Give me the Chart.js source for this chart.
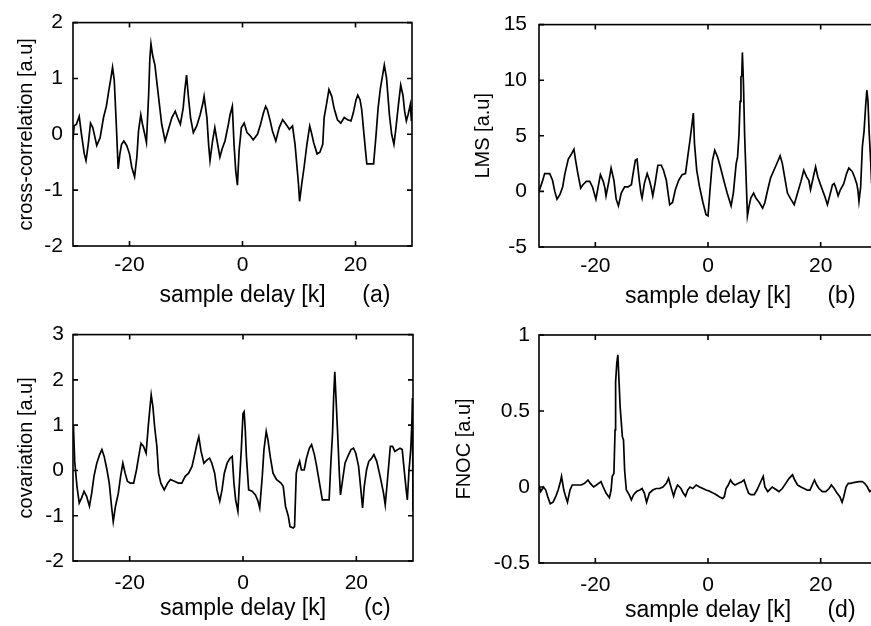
<!DOCTYPE html>
<html>
<head>
<meta charset="utf-8">
<script src="https://cdn.jsdelivr.net/npm/chart.js@4.4.0/dist/chart.umd.min.js"></script>
<style>
  body { margin: 0; width: 871px; height: 626px; overflow: hidden; background: #fff; position: relative; }
  canvas { position: absolute; }
</style>
</head>
<body>
<canvas id="panelA" width="440" height="315" style="left:0;top:0"></canvas>
<canvas id="panelB" width="460" height="315" style="left:440px;top:0"></canvas>
<canvas id="panelC" width="440" height="313" style="left:0;top:313px"></canvas>
<canvas id="panelD" width="460" height="313" style="left:440px;top:313px"></canvas>
<script>
// sample delay ticks shared by all four panels
const delayTicks = [-20, 0, 20];

// (a) cross-correlation
const lagA = [
  -30, -29.8, -29.4, -28.9, -28.5, -28.0, -27.7, -27.3, -26.9, -26.5,
  -26.1, -25.8, -25.2, -24.6, -24.1, -23.7, -23.3, -23.0, -22.7, -22.4,
  -22.0, -21.7, -21.4, -21.0, -20.5, -20.0, -19.6, -19.1, -18.7, -18.4,
  -18.0, -17.7, -17.3, -17.0, -16.6, -16.4, -16.2, -15.9, -15.5, -15.1,
  -14.7, -14.3, -13.7, -13.1, -12.5, -11.9, -11.5, -11.0, -10.5, -10.2,
  -9.9, -9.6, -9.2, -8.7, -8.1, -7.5, -7.0, -6.8, -6.3, -6.0,
  -5.75, -5.3, -4.9, -4.5, -4.0, -3.6, -3.1, -2.5, -2.2, -1.8,
  -1.5, -1.2, -0.9, -0.6, -0.2, 0.3, 0.8, 1.4, 1.9, 2.65,
  3.2, 3.7, 4.1, 4.4, 4.9, 5.3, 5.9, 6.5, 7.1, 7.7,
  8.3, 8.85, 9.3, 9.6, 9.9, 10.1, 10.5, 10.9, 11.4, 11.9,
  12.2, 12.6, 13.2, 13.7, 14.2, 14.45, 14.9, 15.3, 15.8, 16.2,
  16.8, 17.4, 18.0, 18.6, 19.2, 19.6, 20.1, 20.4, 20.8, 21.1,
  21.5, 22.0, 22.7, 23.2, 23.6, 24.0, 24.4, 24.8, 25.1, 25.5,
  26.0, 26.4, 26.8, 27.1, 27.6, 28.0, 28.4, 28.7, 29.0, 29.3,
  29.7, 29.9, 30.0
];
const crossCorr = [
  -0.1, 0.15, 0.18, 0.32, 0.0, -0.35, -0.47, -0.18, 0.2, 0.12,
  -0.06, -0.2, -0.06, 0.3, 0.5, 0.76, 1.0, 1.2, 0.97, 0.32,
  -0.62, -0.35, -0.18, -0.12, -0.2, -0.35, -0.59, -0.76, -0.41, 0.06,
  0.35, 0.18, 0.0, -0.15, 0.74, 1.35, 1.62, 1.41, 1.24, 0.88,
  0.53, 0.18, -0.12, 0.09, 0.3, 0.41, 0.3, 0.18, 0.47, 0.8,
  1.06, 0.7, 0.3, 0.03, 0.15, 0.35, 0.56, 0.68, 0.3, -0.18,
  -0.47, -0.12, 0.12, -0.12, -0.41, -0.26, -0.12, 0.18, 0.35, 0.5,
  -0.18, -0.65, -0.91, -0.29, 0.12, 0.2, 0.03, -0.03, -0.1, 0.0,
  0.18, 0.38, 0.5, 0.44, 0.24, 0.06, -0.12, 0.12, 0.26, 0.18,
  0.09, 0.15, -0.18, -0.53, -0.88, -1.2, -0.88, -0.59, -0.18, 0.15,
  0.03, -0.15, -0.35, -0.32, -0.18, 0.3, 0.56, 0.8, 0.68, 0.47,
  0.26, 0.2, 0.3, 0.26, 0.24, 0.38, 0.62, 0.7, 0.62, 0.44,
  0.0, -0.53, -0.53, -0.53, -0.06, 0.47, 0.82, 1.06, 1.24, 1.0,
  0.35, 0.0, -0.18, 0.06, 0.53, 0.88, 0.7, 0.41, 0.24, 0.35,
  0.53, 0.24, 0.5
];

// (b) LMS
const lagB = [
  -30, -29.4, -29.0, -28.1, -27.6, -27.2, -26.8, -26.3, -25.8, -25.4,
  -24.8, -24.2, -23.8, -23.5, -23.1, -22.6, -22.2, -21.6, -21.0, -20.5,
  -19.9, -19.5, -19.1, -18.6, -18.3, -18.1, -17.6, -17.2, -16.7, -16.3,
  -15.9, -15.4, -14.8, -14.2, -13.6, -13.3, -12.9, -12.6, -12.2, -11.9,
  -11.7, -11.3, -10.8, -10.4, -10.1, -9.8, -9.4, -8.9, -8.3, -7.9,
  -7.4, -6.8, -6.3, -5.8, -5.2, -4.6, -4.0, -3.6, -3.2, -2.8,
  -2.6, -2.4, -2.0, -1.5, -0.9, -0.35, 0.0, 0.4, 0.8, 1.2,
  1.7, 2.2, 2.8, 3.4, 4.1, 4.5, 5.0, 5.25, 5.5, 5.7,
  5.85, 6.0, 6.1, 6.3, 6.5, 6.8, 7.0, 7.3, 7.6, 8.1,
  8.5, 9.1, 9.7, 10.1, 10.6, 11.1, 11.7, 12.3, 12.8, 13.2,
  13.6, 14.1, 14.7, 15.3, 15.9, 16.5, 17.0, 17.5, 17.9, 18.2,
  18.7, 19.1, 19.5, 19.9, 20.3, 20.7, 21.2, 21.6, 22.1, 22.4,
  22.7, 23.1, 23.5, 24.1, 24.6, 25.0, 25.6, 26.0, 26.4, 26.6,
  26.8, 27.1, 27.4, 27.7, 28.0, 28.2, 28.4, 28.6, 28.9, 29.0,
  29.2, 29.6, 30.0
];
const lms = [
  0.0, 0.9, 1.6, 1.6, 1.0, 0.0, -0.7, -0.3, 0.4, 1.6,
  2.9, 3.4, 3.8, 2.8, 1.6, 0.3, 0.6, 0.9, 0.9, 0.4,
  -0.7, 0.4, 1.5, 0.9, 0.3, -0.4, 0.9, 2.1, 1.0, -0.7,
  -1.3, -0.15, 0.4, 0.4, 0.6, 1.6, 2.8, 2.9, 1.0, -0.15,
  -0.6, 0.7, 1.6, 1.0, 0.4, -0.4, 0.7, 2.35, 2.35, 1.9,
  1.0, -1.2, -1.0, 0.15, 1.0, 1.5, 1.6, 3.1, 4.6, 6.2,
  7.05, 4.3, 1.9, 0.4, -1.0, -2.1, -2.2, 0.4, 2.8, 3.7,
  3.1, 2.2, 1.0, -0.15, -1.3, -0.15, 2.5, 3.1, 5.1, 8.1,
  10.3, 10.4, 12.5, 9.6, 5.1, 0.7, -2.2, -1.3, -0.6, -0.15,
  -0.6, -1.0, -1.5, -1.0, 0.15, 1.2, 1.9, 2.6, 3.2, 2.5,
  1.3, -0.15, -0.7, -1.2, -0.15, 0.9, 1.9, 1.3, 1.0, 0.15,
  1.3, 2.2, 1.3, 0.7, 0.15, -0.4, -1.2, -0.4, 0.6, 0.7,
  0.3, -0.4, 0.15, 0.7, 1.6, 2.1, 1.8, 1.3, 0.7, 0.15,
  -0.9, 0.4, 4.0, 5.4, 7.8, 9.1, 8.1, 5.4, 2.5, 1.3,
  1.8, 2.0, 1.5
];

// (c) covariation
const lagC = [
  -30, -29.9, -29.7, -29.3, -28.9, -28.5, -28.05, -27.6, -27.1, -26.7,
  -26.3, -25.8, -25.3, -24.9, -24.5, -24.0, -23.6, -23.2, -22.9, -22.5,
  -22.0, -21.6, -21.2, -20.8, -20.4, -19.9, -19.3, -18.8, -18.4, -18.0,
  -17.55, -17.1, -16.7, -16.4, -16.2, -15.9, -15.6, -15.2, -14.9, -14.5,
  -13.9, -13.3, -12.8, -12.1, -11.4, -10.8, -10.2, -9.6, -9.0, -8.6,
  -8.1, -7.8, -7.4, -6.9, -6.3, -5.9, -5.5, -5.0, -4.6, -4.1,
  -3.7, -3.3, -2.8, -2.3, -1.9, -1.6, -1.3, -0.9, -0.6, -0.3,
  0.0, 0.2, 0.4, 0.6, 1.0, 1.6, 2.2, 2.65, 2.95, 3.4,
  3.7, 4.1, 4.4, 4.8, 5.3, 5.9, 6.7, 7.1, 7.5, 8.0,
  8.3, 8.85, 9.1, 9.4, 9.7, 10.0, 10.3, 10.8, 11.2, 11.7,
  12.1, 12.6, 13.0, 13.6, 14.0, 14.75, 15.2, 15.5, 15.8, 16.0,
  16.2, 16.4, 16.7, 17.0, 17.2, 17.5, 18.0, 18.5, 19.05, 19.5,
  19.9, 20.4, 20.8, 21.1, 21.4, 21.8, 22.2, 22.7, 23.1, 23.6,
  24.2, 24.8, 25.1, 25.5, 26.0, 26.4, 26.8, 27.3, 27.7, 28.1,
  28.5, 28.8, 29.0, 29.3, 29.6, 29.8, 29.9, 30.0
];
const covariation = [
  1.0, 0.9, 0.2, -0.35, -0.72, -0.61, -0.46, -0.57, -0.79, -0.5,
  -0.13, 0.16, 0.35, 0.46, 0.31, 0.01, -0.28, -0.79, -1.13, -0.79,
  -0.5, -0.13, 0.16, -0.06, -0.24, -0.28, -0.28, 0.01, 0.31, 0.6,
  0.53, 0.38, 1.0, 1.41, 1.67, 1.41, 0.97, 0.53, -0.06, -0.28,
  -0.43, -0.28, -0.2, -0.24, -0.28, -0.28, -0.13, -0.06, 0.09, 0.31,
  0.6, 0.74, 0.42, 0.16, 0.24, 0.27, 0.16, -0.06, -0.43, -0.68,
  -0.43, -0.06, 0.16, 0.27, 0.31, -0.28, -0.65, -0.9, -0.2, 0.46,
  1.26, 1.3, 0.9, 0.31, -0.43, -0.46, -0.54, -0.68, -0.83, -0.13,
  0.46, 0.86, 0.68, 0.31, -0.06, -0.2, -0.28, -0.35, -0.79, -1.01,
  -1.24, -1.27, -1.24, -0.06, 0.09, 0.2, 0.01, 0.01, 0.27, 0.49,
  0.57, 0.35, 0.09, -0.35, -0.65, -0.65, -0.65, 0.16, 0.82, 1.63,
  2.18, 1.63, 0.82, -0.06, -0.54, -0.28, 0.16, 0.31, 0.46, 0.49,
  0.38, 0.09, -0.43, -0.83, -0.35, 0.01, 0.2, 0.27, 0.35, 0.2,
  -0.13, -0.5, -0.76, -0.2, 0.53, 0.53, 0.42, 0.46, 0.49, 0.46,
  -0.06, -0.43, -0.65, 0.01, 0.46, 1.04, 1.6, -0.9
];

// (d) FNOC
const lagD = [
  -30, -29.7, -29.2, -28.8, -28.4, -28.0, -27.5, -27.0, -26.6, -26.2,
  -26.0, -25.6, -25.3, -24.95, -24.5, -24.1, -23.4, -22.5, -21.9, -21.3,
  -20.9, -20.3, -19.8, -19.4, -19.0, -18.6, -18.1, -17.5, -17.2, -17.0,
  -16.7, -16.5, -16.4, -16.2, -16.0, -15.8, -15.6, -15.2, -15.0, -14.8,
  -14.5, -14.0, -13.6, -13.2, -12.7, -12.1, -11.7, -11.3, -10.9, -10.4,
  -9.8, -9.2, -8.6, -8.0, -7.4, -7.0, -6.5, -6.1, -5.8, -5.4,
  -4.8, -4.4, -4.0, -3.6, -3.2, -2.7, -2.1, -1.5, -0.9, -0.35,
  0.2, 0.8, 1.4, 2.0, 2.6, 2.9, 3.2, 3.6, 4.0, 4.4,
  4.8, 5.4, 6.0, 6.4, 6.8, 7.2, 7.6, 8.2, 8.7, 9.1,
  9.5, 9.8, 10.1, 10.6, 11.0, 11.4, 12.0, 12.6, 13.2, 13.8,
  14.4, 15.0, 15.4, 15.9, 16.5, 17.05, 17.6, 18.1, 18.5, 18.9,
  19.3, 19.7, 20.3, 20.9, 21.5, 21.9, 22.4, 22.9, 23.4, 23.8,
  24.1, 24.5, 24.9, 25.3, 26.0, 26.8, 27.4, 27.8, 28.3, 28.7,
  29.0, 29.5, 30.0
];
const fnoc = [
  0.01, -0.03, 0.0, -0.02, -0.07, -0.11, -0.1, -0.06, -0.02, 0.035,
  0.07, -0.02, -0.06, -0.1, -0.02, 0.013, 0.013, 0.013, 0.024, 0.046,
  0.024, 0.0, 0.013, 0.024, 0.035, 0.0, -0.04, -0.07, -0.02, 0.07,
  0.09, 0.375, 0.69, 0.81, 0.87, 0.7, 0.53, 0.33, 0.31, 0.11,
  -0.02, -0.05, -0.085, -0.05, -0.03, -0.02, -0.01, -0.04, -0.1, -0.04,
  -0.02, -0.01, -0.01, 0.0, 0.024, 0.057, -0.01, -0.06, -0.02, 0.013,
  -0.01, -0.04, -0.06, -0.02, 0.0, -0.01, 0.013, 0.0, -0.01, -0.02,
  -0.026, -0.037, -0.05, -0.064, -0.075, -0.064, -0.01, 0.013, 0.046, 0.024,
  0.013, 0.024, 0.035, 0.046, 0.0, -0.04, -0.05, -0.05, -0.02, 0.013,
  0.046, 0.07, 0.0, -0.03, -0.015, 0.0, -0.015, -0.03, -0.01, 0.024,
  0.057, 0.08, 0.046, 0.013, 0.0, -0.01, -0.02, -0.02, 0.013, 0.046,
  0.013, -0.01, -0.03, -0.03, -0.01, 0.013, -0.01, -0.04, -0.064, -0.1,
  -0.064, 0.0, 0.024, 0.024, 0.03, 0.035, 0.035, 0.024, 0.0, -0.03,
  -0.02, 0.0, 0.0
];

const ticksA = [-2, -1, 0, 1, 2];
const ticksB = [-5, 0, 5, 10, 15];
const ticksC = [-2, -1, 0, 1, 2, 3];
const ticksD = [-0.5, 0, 0.5, 1];

const fontFamily = '"Liberation Sans", Arial, Helvetica, sans-serif';
const xTitleSize = 23;
Chart.defaults.font.family = fontFamily;
Chart.defaults.color = '#000';

// matlab style frame: full box, inward ticks on all four sides, plus the (a)/(b) tag
const frameAndTag = {
  id: 'frameAndTag',
  afterDatasetsDraw(chart, args, opts) {
    const { ctx, chartArea: a, scales } = chart;
    const xs = scales.x, ys = scales.y;
    ctx.save();
    ctx.strokeStyle = '#000';
    ctx.lineWidth = 1.6;
    ctx.strokeRect(a.left, a.top, a.right - a.left, a.bottom - a.top);
    ctx.beginPath();
    xs.ticks.forEach(t => {
      const px = xs.getPixelForValue(t.value);
      ctx.moveTo(px, a.bottom); ctx.lineTo(px, a.bottom - 5);
      ctx.moveTo(px, a.top); ctx.lineTo(px, a.top + 5);
    });
    ys.ticks.forEach(t => {
      const py = ys.getPixelForValue(t.value);
      ctx.moveTo(a.left, py); ctx.lineTo(a.left + 5, py);
      ctx.moveTo(a.right, py); ctx.lineTo(a.right - 5, py);
    });
    ctx.stroke();
    ctx.font = xTitleSize + 'px ' + fontFamily;
    ctx.fillStyle = '#000';
    ctx.textAlign = 'center';
    ctx.textBaseline = 'middle';
    ctx.fillText(opts.tag, a.left + 0.895 * (a.right - a.left), opts.tagY);
    ctx.restore();
  }
};

function makePanel(id, lags, values, yTicks, yTitle, p) {
  const canvas = document.getElementById(id);
  const titleCenter = canvas.height - p.xTitlePad - xTitleSize * 0.6;
  new Chart(canvas, {
    type: 'line',
    data: {
      datasets: [{
        data: lags.map((k, i) => ({ x: k, y: values[i] })),
        borderColor: '#000',
        borderWidth: 1.7,
        pointRadius: 0,
        tension: 0,
        fill: false
      }]
    },
    options: {
      responsive: false,
      animation: false,
      layout: { padding: { left: 0, top: p.top, right: p.right, bottom: 0 } },
      plugins: {
        legend: { display: false },
        tooltip: { enabled: false },
        frameAndTag: { tag: p.tag, tagY: titleCenter }
      },
      scales: {
        x: {
          type: 'linear',
          min: -30,
          max: 30,
          afterBuildTicks: s => { s.ticks = delayTicks.map(v => ({ value: v })); },
          afterFit: s => { s.height = p.xHeight; },
          grid: { display: false, drawTicks: false },
          border: { display: false },
          ticks: { padding: p.xTickPad, maxRotation: 0, font: { size: 21 }, callback: v => String(v) },
          title: { display: true, text: 'sample delay [k]', font: { size: xTitleSize }, padding: { top: 0, bottom: p.xTitlePad } }
        },
        y: {
          min: yTicks[0],
          max: yTicks[yTicks.length - 1],
          afterBuildTicks: s => { s.ticks = yTicks.map(v => ({ value: v })); },
          afterFit: s => { s.width = p.yWidth; },
          grid: { display: false, drawTicks: false },
          border: { display: false },
          ticks: { padding: p.yTickPad, font: { size: 21 }, callback: v => String(v) },
          title: { display: true, text: yTitle, font: { size: 20 }, padding: { top: p.yTitlePad, bottom: 0 } }
        }
      }
    },
    plugins: [frameAndTag]
  });
}

makePanel('panelA', lagA, crossCorr, ticksA, 'cross-correlation [a.u]',
  { tag: '(a)', top: 18, right: 28, yWidth: 73, xHeight: 69, yTickPad: 10, yTitlePad: 14, xTickPad: 7, xTitlePad: 6 });
makePanel('panelB', lagB, lms, ticksB, 'LMS [a.u]',
  { tag: '(b)', top: 19, right: 23, yWidth: 99, xHeight: 68, yTickPad: 12, yTitlePad: 31, xTickPad: 7, xTitlePad: 5 });
makePanel('panelC', lagC, covariation, ticksC, 'covariation [a.u]',
  { tag: '(c)', top: 21, right: 27, yWidth: 73, xHeight: 65, yTickPad: 9, yTitlePad: 14, xTickPad: 10, xTitlePad: 4 });
makePanel('panelD', lagD, fnoc, ticksD, 'FNOC [a.u]',
  { tag: '(d)', top: 22, right: 23, yWidth: 99, xHeight: 63, yTickPad: 9, yTitlePad: 12, xTickPad: 10, xTitlePad: 2 });
</script>
</body>
</html>
